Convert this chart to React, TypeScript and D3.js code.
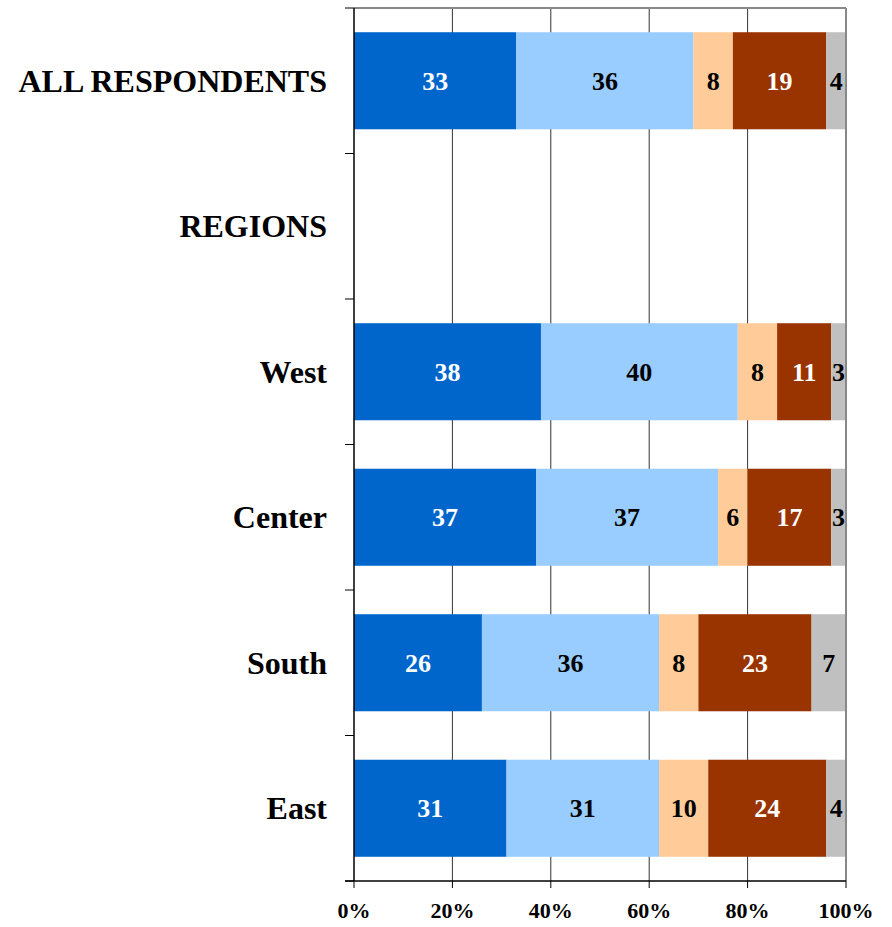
import React from "react";
import * as d3 from "d3";

const categories = ["ALL RESPONDENTS", "REGIONS", "West", "Center", "South", "East"];
const s1 = [33, null, 38, 37, 26, 31];
const s2 = [36, null, 40, 37, 36, 31];
const s3 = [8, null, 8, 6, 8, 10];
const s4 = [19, null, 11, 17, 23, 24];
const s5 = [4, null, 3, 3, 7, 4];
const seriesColors = ["#0066CC", "#99CCFF", "#FFCC99", "#993300", "#C0C0C0"];
const labelColors = ["#FFFFFF", "#000000", "#000000", "#FFFFFF", "#000000"];
const xTicks = [0, 20, 40, 60, 80, 100];

const W = 892;
const H = 927;
const left = 354;
const right = 846;
const top = 8;
const bottom = 881;
const FONT = "'Liberation Serif', 'Times New Roman', serif";

export default function App() {
  const series = [s1, s2, s3, s4, s5];
  const x = d3.scaleLinear().domain([0, 100]).range([left, right]);
  const y = d3
    .scaleBand<string>()
    .domain(categories)
    .range([top, bottom])
    .paddingInner(0.333)
    .paddingOuter(0.1665);
  const step = y.step();

  const rows = categories.map((c, i) => {
    const vals = series.map((s) => s[i]);
    if (vals.some((v) => v == null)) return null;
    let acc = 0;
    const segs = vals.map((v, k) => {
      const x0 = acc;
      acc += v as number;
      return { k, x0, x1: acc, v: v as number };
    });
    return { c, segs };
  });

  const boundaries = d3.range(categories.length + 1).map((i) => top + i * step);

  return (
    <svg
      width={W}
      height={H}
      style={{ position: "absolute", left: 0, top: 0, background: "#fff" }}
      fontFamily={FONT}
    >
      {xTicks.slice(1, -1).map((t) => (
        <line key={t} x1={x(t)} x2={x(t)} y1={top} y2={bottom} stroke="#333" strokeWidth={1} />
      ))}
      {rows.map((r) =>
        r
          ? r.segs.map((s) => (
              <rect
                key={r.c + s.k}
                x={x(s.x0)}
                y={y(r.c)}
                width={x(s.x1) - x(s.x0)}
                height={y.bandwidth()}
                fill={seriesColors[s.k]}
              />
            ))
          : null
      )}
      {rows.map((r) =>
        r
          ? r.segs.map((s) => (
              <text
                key={"t" + r.c + s.k}
                x={(x(s.x0) + x(s.x1)) / 2}
                y={(y(r.c) as number) + y.bandwidth() / 2}
                dy="0.35em"
                textAnchor="middle"
                fontSize={26}
                fontWeight="bold"
                fill={labelColors[s.k]}
              >
                {s.v}
              </text>
            ))
          : null
      )}
      <line x1={left} x2={right} y1={top} y2={top} stroke="#888" strokeWidth={2} />
      <line x1={right} x2={right} y1={top} y2={bottom} stroke="#888" strokeWidth={2} />
      <line x1={left} x2={left} y1={top} y2={bottom} stroke="#000" strokeWidth={1.5} />
      {boundaries.map((b, i) => (
        <line key={"lt" + i} x1={left - 9} x2={left} y1={b} y2={b} stroke="#000" strokeWidth={1} />
      ))}
      <line x1={left - 9} x2={right} y1={bottom} y2={bottom} stroke="#000" strokeWidth={1.5} />
      {xTicks.map((t) => (
        <line key={"bt" + t} x1={x(t)} x2={x(t)} y1={bottom} y2={bottom + 7} stroke="#000" strokeWidth={1} />
      ))}
      {xTicks.map((t) => (
        <text
          key={"bl" + t}
          x={x(t)}
          y={918}
          textAnchor="middle"
          fontSize={22}
          fontWeight="bold"
          fill="#000"
        >
          {t + "%"}
        </text>
      ))}
      {categories.map((c) => (
        <text
          key={"c" + c}
          x={327}
          y={(y(c) as number) + y.bandwidth() / 2}
          dy="0.35em"
          textAnchor="end"
          fontSize={32}
          fontWeight="bold"
          fill="#000"
        >
          {c}
        </text>
      ))}
    </svg>
  );
}
